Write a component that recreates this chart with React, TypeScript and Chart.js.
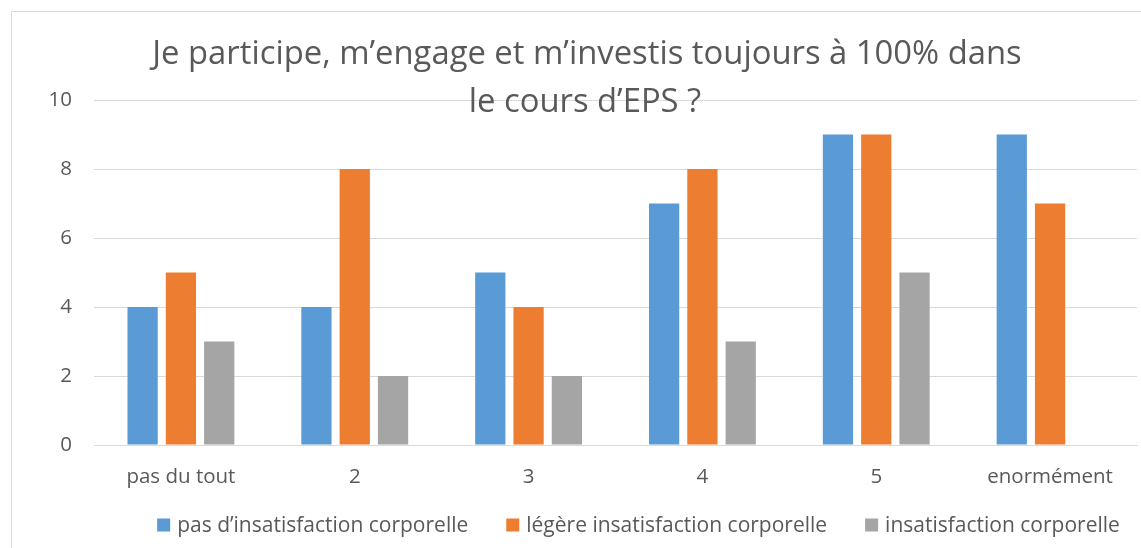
import React, { useEffect, useRef } from "react";
import { Chart, registerables } from "chart.js";

Chart.register(...registerables);

const titleLines = ["Je participe, m\u2019engage et m\u2019investis toujours à 100% dans", "le cours d\u2019EPS ?"];
const categories = ["pas du tout", "2", "3", "4", "5", "enormément"];
const seriesNames = [
  "pas d\u2019insatisfaction corporelle",
  "légère insatisfaction corporelle",
  "insatisfaction corporelle",
];
const noDissatisfaction = [4, 4, 5, 7, 9, 9];
const slightDissatisfaction = [5, 8, 4, 8, 9, 7];
const dissatisfaction = [3, 2, 2, 3, 5, 0];
const yTicks = [0, 2, 4, 6, 8, 10];

const COLORS = ["#5B9BD5", "#ED7D31", "#A5A5A5"];
const TEXT = "#595959";
const FONT = "'Open Sans', 'Noto Sans', sans-serif";

const W = 1129;
const H = 536;

const decorPlugin = {
  id: "decor",
  afterDraw(chart: any) {
    const ctx = chart.ctx as CanvasRenderingContext2D;
    ctx.save();
    // title
    ctx.fillStyle = TEXT;
    ctx.font = `32.8px ${FONT}`;
    ctx.textAlign = "center";
    ctx.textBaseline = "alphabetic";
    ctx.fillText(titleLines[0], 575, 52);
    ctx.fillText(titleLines[1], 573, 100);
    // legend
    ctx.font = `21px ${FONT}`;
    ctx.textAlign = "left";
    ctx.textBaseline = "middle";
    const box = 13;
    const boxGap = 7;
    const itemGap = 38;
    const items = chart.data.datasets.map((d: any) => ({
      text: d.label,
      color: d.backgroundColor,
      w: box + boxGap + ctx.measureText(d.label).width,
    }));
    const total = items.reduce((s: number, it: any) => s + it.w, 0) + itemGap * (items.length - 1);
    let x = 626.5 - total / 2;
    const cy = 513;
    items.forEach((it: any) => {
      ctx.fillStyle = it.color;
      ctx.fillRect(x, cy - box / 2, box, box);
      ctx.fillStyle = TEXT;
      ctx.fillText(it.text, x + box + boxGap, cy + 1);
      x += it.w + itemGap;
    });
    ctx.restore();
  },
};

export default function App() {
  const ref = useRef<HTMLCanvasElement | null>(null);
  useEffect(() => {
    if (!ref.current) return;
    const data = [noDissatisfaction, slightDissatisfaction, dissatisfaction];
    const chart = new Chart(ref.current, {
      type: "bar",
      data: {
        labels: categories,
        datasets: data.map((vals, i) => ({
          label: seriesNames[i],
          data: vals,
          backgroundColor: COLORS[i],
          borderWidth: 0,
          barPercentage: 0.79,
          categoryPercentage: 0.661,
        })),
      },
      options: {
        animation: false,
        responsive: false,
        devicePixelRatio: 1,
        layout: { padding: { top: 88, right: 4, left: 0, bottom: 0 } },
        plugins: {
          legend: { display: false },
          title: { display: false },
          tooltip: { enabled: false },
        },
        scales: {
          x: {
            grid: { display: false, drawTicks: false },
            border: { display: true, color: "#D9D9D9", width: 1 },
            ticks: { color: TEXT, font: { family: FONT, size: 20.5 }, padding: 20, maxRotation: 0 },
            afterFit: (s: any) => {
              s.height = 103;
            },
          },
          y: {
            min: 0,
            max: 10,
            afterBuildTicks: (s: any) => {
              s.ticks = yTicks.map((v) => ({ value: v }));
            },
            grid: { color: "#D9D9D9", drawTicks: false, lineWidth: 1 },
            border: { display: false },
            ticks: { color: TEXT, font: { family: FONT, size: 20.5 }, padding: 22 },
            afterFit: (s: any) => {
              s.width = 82;
            },
          },
        },
      },
      plugins: [decorPlugin],
    });
    return () => chart.destroy();
  }, []);
  return (
    <div
      style={{
        position: "fixed",
        left: 11,
        top: 11,
        right: 0,
        bottom: 0,
        borderLeft: "1px solid #D9D9D9",
        borderTop: "1px solid #D9D9D9",
        overflow: "hidden",
        background: "#fff",
      }}
    >
      <canvas ref={ref} width={W} height={H} style={{ display: "block", width: W, height: H }} />
    </div>
  );
}
